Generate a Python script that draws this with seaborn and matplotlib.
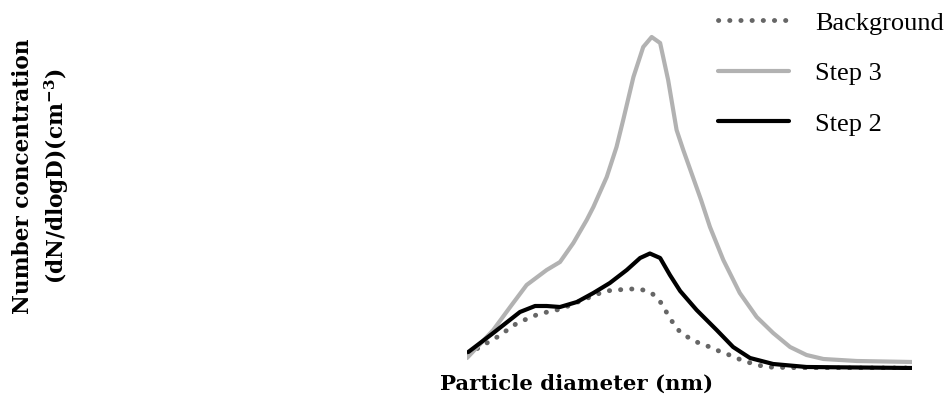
import numpy as np
import pandas as pd
import matplotlib
matplotlib.use("Agg")
import matplotlib.pyplot as plt
import seaborn as sns

# Size distributions (arbitrary diameter / concentration units)
step3_x = [0.0, 5.9, 9.7, 13.4, 17.9, 20.9, 23.9, 26.9, 28.4, 31.4, 33.6, 35.1,
           37.4, 39.6, 41.5, 43.4, 45.2, 47.1, 48.6, 52.6, 54.6, 57.6, 61.3,
           65.1, 68.8, 72.6, 76.3, 80.1, 87.6, 100.0]
step3_y = [12, 40, 63, 85, 100, 108, 127, 150, 163, 193, 223, 250,
           293, 323, 333, 327, 290, 240, 220, 170, 143, 110, 77,
           53, 37, 23, 15, 11, 9, 8]

step2_x = [0.3, 5.9, 11.9, 15.3, 17.9, 20.9, 24.7, 28.4, 32.1, 35.9, 38.9,
           41.1, 43.4, 45.6, 47.9, 51.6, 56.1, 59.8, 63.6, 68.8, 76.3, 100.0]
step2_y = [18, 37, 58, 64, 64, 63, 68, 77, 87, 100, 112,
           116.5, 112, 95, 79, 60, 40, 23, 12, 6, 3, 2]

bg_x = [0.3, 2.5, 6.8, 11.3, 16.1, 21.1, 26.0, 31.1, 36.3, 38.9, 41.5,
        43.4, 44.8, 46.1, 47.7, 49.9, 52.1, 54.6, 57.1, 59.6, 62.1, 64.6,
        67.1, 76.3, 100.0]
bg_y = [15, 22, 33, 47, 56, 61, 70, 79, 81, 81, 77,
        68.5, 58, 48.5, 39, 32, 27, 23, 18, 14, 9, 6,
        3, 2, 2]

labels = ["Background", "Step 3", "Step 2"]

sns.set_style("white")
plt.rcParams["font.family"] = ["Liberation Serif", "DejaVu Serif"]
plt.rcParams["text.color"] = "black"
plt.rcParams["axes.labelcolor"] = "black"
plt.rcParams["mathtext.fontset"] = "custom"
plt.rcParams["mathtext.rm"] = "DejaVu Serif:bold"
plt.rcParams["mathtext.bf"] = "DejaVu Serif:bold"

fig = plt.figure(figsize=(9.48, 4.05), dpi=100)
ax = fig.add_axes([467 / 948, 35 / 405, 445 / 948, 340 / 405])

bg = pd.DataFrame({"d": bg_x, "n": bg_y})
s3 = pd.DataFrame({"d": step3_x, "n": step3_y})
s2 = pd.DataFrame({"d": step2_x, "n": step2_y})

# dotted background: tiny dashes with round caps give round dots
sns.lineplot(data=bg, x="d", y="n", ax=ax, color="#666666", lw=3.5,
             label=labels[0], linestyle=(0, (0.05, 2.25)),
             dash_capstyle="round")
sns.lineplot(data=s3, x="d", y="n", ax=ax, color="#b2b2b2", lw=3.0,
             label=labels[1], solid_capstyle="round", solid_joinstyle="round")
sns.lineplot(data=s2, x="d", y="n", ax=ax, color="#000000", lw=3.0,
             label=labels[2], solid_capstyle="round", solid_joinstyle="round")

ax.set_xlim(0, 100)
ax.set_ylim(0, 340)
ax.set_xticks([])
ax.set_yticks([])
sns.despine(ax=ax, left=True, bottom=True)

ax.set_xlabel("Particle diameter (nm)", fontsize=15.3, fontweight="bold",
              family=["DejaVu Serif"])
ax.xaxis.set_label_coords(0.246, -0.012)
ax.set_ylabel("Number concentration\n(dN/dlogD)(cm$^{\\mathbf{-3}}$)",
              fontsize=15.6, fontweight="bold", family=["DejaVu Serif"],
              linespacing=1.4)
ax.yaxis.set_label_coords(-0.89, 0.57)

leg = ax.legend(loc="upper left", bbox_to_anchor=(0.51, 1.125), frameon=False,
                fontsize=19, handlelength=2.7, handletextpad=1.0,
                labelspacing=1.02)
for h in leg.get_lines():
    h.set_solid_capstyle("round")
    h.set_dash_capstyle("round")

fig.savefig("out.png", dpi=100)
